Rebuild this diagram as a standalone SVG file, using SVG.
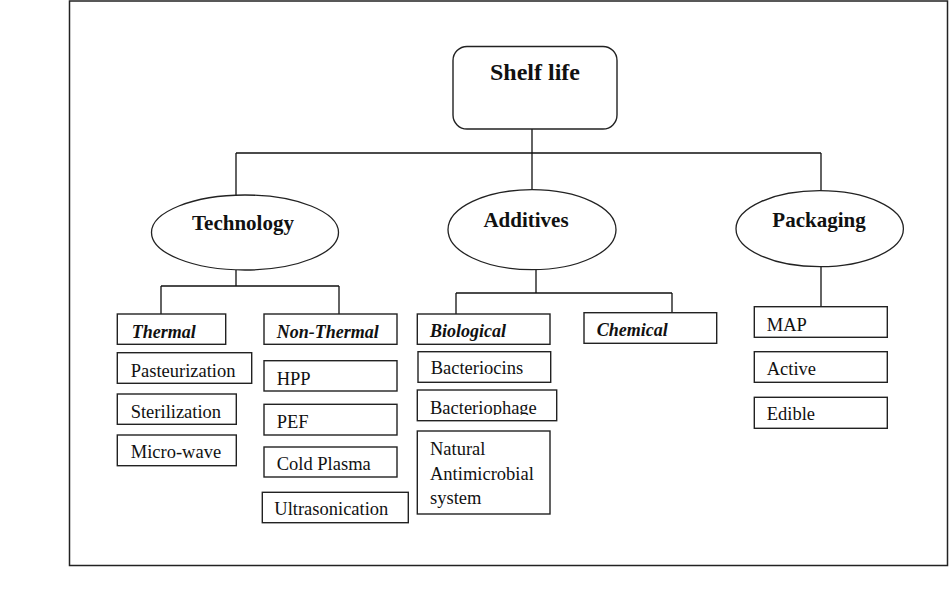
<svg xmlns="http://www.w3.org/2000/svg" width="950" height="608" viewBox="0 0 950 608">
<style>
.ln{stroke:#111;stroke-width:1.3;fill:none}
.bx{stroke:#222;stroke-width:1.4;fill:#fff}
.el{stroke:#222;stroke-width:1.3;fill:#fff}
.h{font-family:"Liberation Serif","Times New Roman",serif;font-weight:bold;font-size:21px;fill:#111;text-anchor:middle}
.s{font-family:"Liberation Serif","Times New Roman",serif;font-weight:bold;font-style:italic;font-size:18px;fill:#111}
.t{font-family:"Liberation Serif","Times New Roman",serif;font-size:18.5px;fill:#111}
</style>
<defs>
<clipPath id="clipBp"><rect x="418" y="391" width="138" height="24"/></clipPath>
</defs>
<rect x="69.5" y="1" width="878" height="564.5" fill="#fff" stroke="#222" stroke-width="1.5"/>
<g id="connectors">
<path class="ln" d="M532 129V190M236 153H821M236 153V195M821 153V191"/>
<path class="ln" d="M236 270V286M161 286H339M161 286V314M339 286V314"/>
<path class="ln" d="M536 270V293M456 293H672M456 293V314M672 293V313"/>
<path class="ln" d="M821 266.5V306.7"/>
</g>
<g id="shelf-life">
<rect class="bx" x="453" y="46.5" width="164" height="82.5" rx="14"/>
<text class="h" x="535" y="80" style="font-size:24px">Shelf life</text>
</g>
<g id="technology">
<ellipse class="el" cx="245" cy="232.5" rx="93.5" ry="37.5"/>
<text class="h" x="243" y="230">Technology</text>
</g>
<g id="additives">
<ellipse class="el" cx="532" cy="229.7" rx="84" ry="40"/>
<text class="h" x="526" y="226.5">Additives</text>
</g>
<g id="packaging">
<ellipse class="el" cx="819.7" cy="228.7" rx="83.7" ry="38"/>
<text class="h" x="819" y="227">Packaging</text>
</g>
<g id="thermal">
<rect class="bx" x="117.3" y="314" width="108.4" height="30.3"/>
<text class="s" x="131.7" y="337.5">Thermal</text>
</g>
<g id="non-thermal">
<rect class="bx" x="264" y="314" width="133" height="30.3"/>
<text class="s" x="276.7" y="337.5">Non-Thermal</text>
</g>
<g id="pasteurization">
<rect class="bx" x="117.3" y="352.7" width="134.4" height="30.6"/>
<text class="t" x="130.7" y="376.5">Pasteurization</text>
</g>
<g id="sterilization">
<rect class="bx" x="117.3" y="394" width="119" height="30.3"/>
<text class="t" x="130.7" y="418">Sterilization</text>
</g>
<g id="micro-wave">
<rect class="bx" x="117.3" y="435" width="119" height="30.7"/>
<text class="t" x="130.7" y="458">Micro-wave</text>
</g>
<g id="hpp">
<rect class="bx" x="264" y="360.7" width="133" height="30.3"/>
<text class="t" x="276.7" y="385">HPP</text>
</g>
<g id="pef">
<rect class="bx" x="264" y="404.3" width="133" height="30.7"/>
<text class="t" x="276.7" y="428">PEF</text>
</g>
<g id="cold-plasma">
<rect class="bx" x="264" y="447" width="133" height="30"/>
<text class="t" x="276.7" y="470">Cold Plasma</text>
</g>
<g id="ultrasonication">
<rect class="bx" x="262.3" y="492.3" width="146" height="30.4"/>
<text class="t" x="274.3" y="515">Ultrasonication</text>
</g>
<g id="biological">
<rect class="bx" x="417.3" y="314" width="132.7" height="30.3"/>
<text class="s" x="430" y="337">Biological</text>
</g>
<g id="chemical">
<rect class="bx" x="584" y="312.7" width="132.7" height="30.6"/>
<text class="s" x="596.7" y="336">Chemical</text>
</g>
<g id="bacteriocins">
<rect class="bx" x="418" y="351.7" width="132.7" height="30.6"/>
<text class="t" x="430.7" y="374">Bacteriocins</text>
</g>
<g id="bacteriophage">
<rect class="bx" x="417.3" y="390" width="139.4" height="30.7"/>
<text class="t" x="430" y="413.5" clip-path="url(#clipBp)">Bacteriophage</text>
</g>
<g id="natural-antimicrobial">
<rect class="bx" x="417.3" y="431" width="132.7" height="83"/>
<text class="t" x="430" y="455">Natural</text>
<text class="t" x="430" y="480">Antimicrobial</text>
<text class="t" x="430" y="503.5">system</text>
</g>
<g id="map">
<rect class="bx" x="754.3" y="306.7" width="133" height="30.6"/>
<text class="t" x="766.7" y="331">MAP</text>
</g>
<g id="active">
<rect class="bx" x="754.3" y="351.7" width="133" height="30.6"/>
<text class="t" x="766.7" y="375">Active</text>
</g>
<g id="edible">
<rect class="bx" x="754.3" y="397.3" width="133" height="31"/>
<text class="t" x="766.7" y="420">Edible</text>
</g>
</svg>
